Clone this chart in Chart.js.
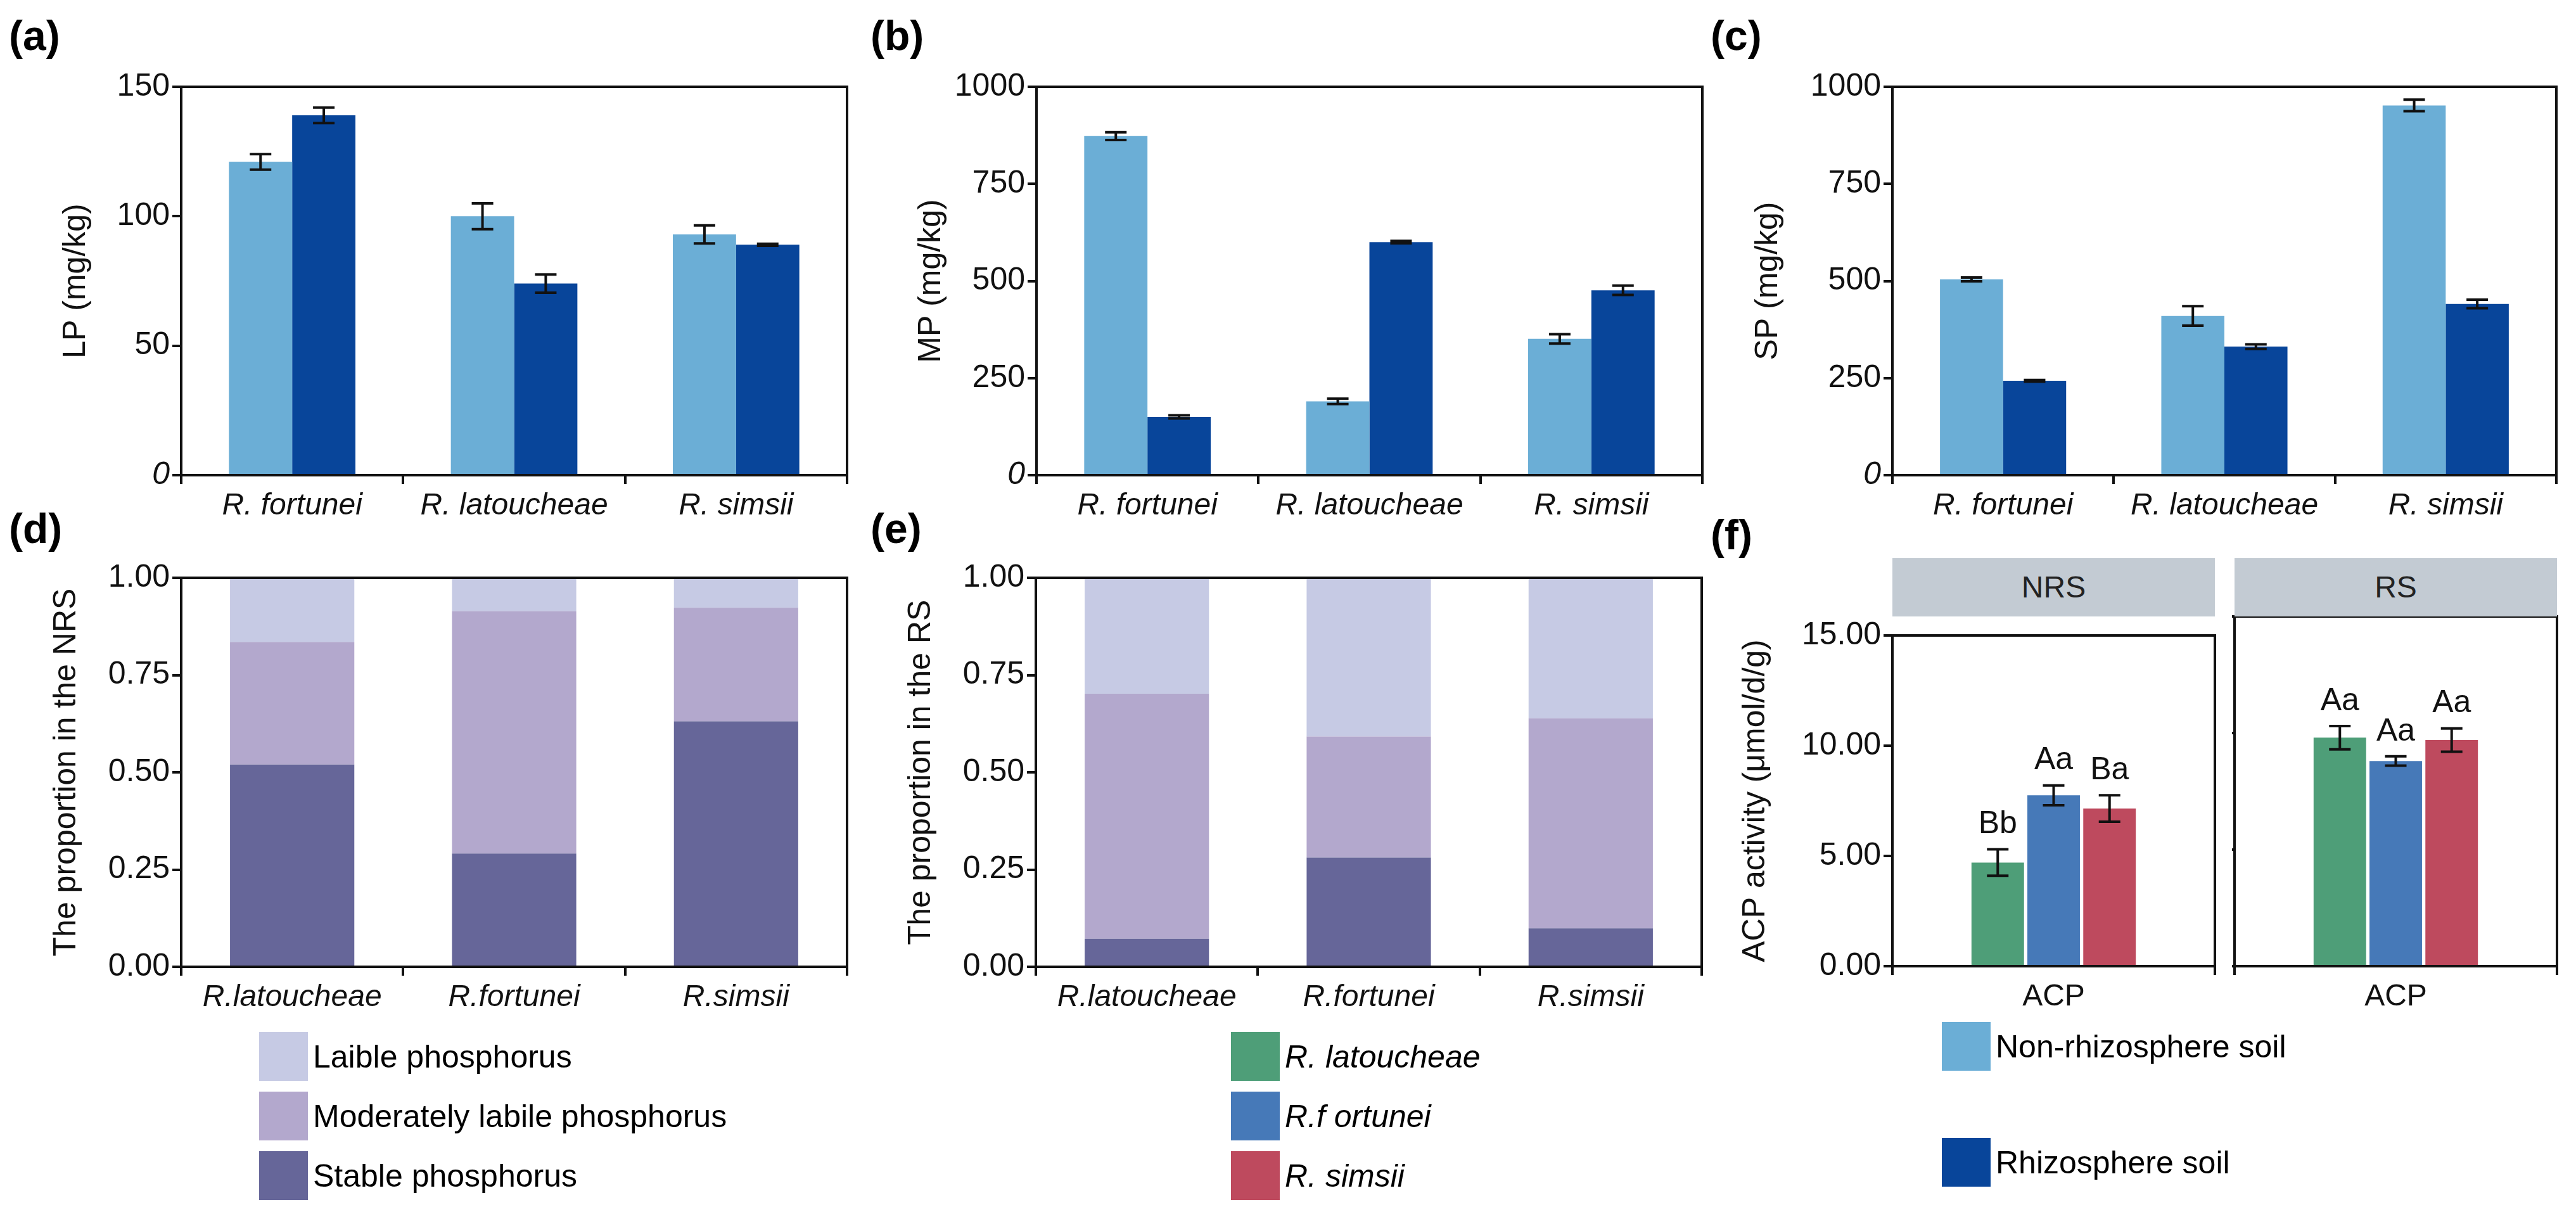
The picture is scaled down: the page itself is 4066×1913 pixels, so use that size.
<!DOCTYPE html>
<html><head><meta charset="utf-8">
<script src="https://cdn.jsdelivr.net/npm/chart.js@4/dist/chart.umd.min.js"></script>
<style>
body{margin:0;background:#fff;width:4066px;height:1913px;position:relative;overflow:hidden;font-family:"Liberation Sans",Arial,sans-serif}
.box{position:absolute}
.lab{position:absolute;font-weight:bold;font-size:66px}
.leg{position:absolute;font-size:50px;display:flex;align-items:center}
.leg span.sw{display:inline-block;width:77px;height:77px;margin-right:8px}
.strip{position:absolute;background:#C3CBD3;font-size:48px;text-align:center;line-height:92px;color:#222}
</style></head><body>
<script>
// --- data ---
const speciesTop = ['R. fortunei', 'R. latoucheae', 'R. simsii'];
const lpNRS = [121, 100, 93], lpRS = [139, 74, 89];
const lpNRSerr = [3, 5, 3.5], lpRSerr = [3, 3.5, 0.4];
const mpNRS = [873, 190, 351], mpRS = [150, 600, 476];
const mpNRSerr = [10, 7, 12], mpRSerr = [4, 3, 12];
const spNRS = [504, 410, 952], spRS = [243, 331, 441];
const spNRSerr = [5, 25, 15], spRSerr = [2, 6, 11];

const speciesBot = ['R.latoucheae', 'R.fortunei', 'R.simsii'];
const nrsStable = [0.52, 0.291, 0.631];
const nrsModerate = [0.315, 0.623, 0.292];
const nrsLabile = [0.165, 0.086, 0.077];
const rsStable = [0.072, 0.281, 0.099];
const rsModerate = [0.630, 0.311, 0.540];
const rsLabile = [0.298, 0.408, 0.361];

const acpNames = ['R. latoucheae', 'R.f ortunei', 'R. simsii'];
const acpNRS = [4.7, 7.75, 7.15], acpNRSerr = [0.6, 0.45, 0.6];
const acpRS = [9.8, 8.8, 9.7], acpRSerr = [0.5, 0.2, 0.5];
const acpNRSlab = ['Bb', 'Aa', 'Ba'], acpRSlab = ['Aa', 'Aa', 'Aa'];

const cLight = '#6BAED6', cDark = '#08459A';
const cLab = '#C6CAE4', cMod = '#B3A8CD', cSta = '#666699';
const cAcp = ['#4E9E78', '#4679B8', '#BE4A5E'];
const FONT = '"Liberation Sans", Arial, sans-serif';

Chart.defaults.font.family = FONT;
Chart.defaults.color = '#111';
Chart.defaults.animation = false;

const frame = {
  id: 'frame',
  afterDraw(c) {
    const a = c.chartArea, g = c.ctx;
    g.save(); g.strokeStyle = '#111'; g.lineWidth = 4;
    g.strokeRect(a.left, a.top, a.right - a.left, a.bottom - a.top);
    g.restore();
  }
};
const errbars = {
  id: 'errbars',
  afterDatasetsDraw(c, args, o) {
    if (!o.err) return;
    const g = c.ctx, ys = c.scales.y;
    g.save(); g.strokeStyle = '#111'; g.lineWidth = 4;
    o.err.forEach((errs, i) => {
      const ds = c.data.datasets[i];
      c.getDatasetMeta(i).data.forEach((bar, j) => {
        const v = ds.data[j], e = errs[j];
        const t = ys.getPixelForValue(v + e), b = ys.getPixelForValue(v - e);
        const w = o.cap || 17;
        g.beginPath();
        g.moveTo(bar.x, t); g.lineTo(bar.x, b);
        g.moveTo(bar.x - w, t); g.lineTo(bar.x + w, t);
        g.moveTo(bar.x - w, b); g.lineTo(bar.x + w, b);
        g.stroke();
        if (o.labels) {
          g.fillStyle = '#111'; g.font = '50px ' + FONT;
          g.textAlign = 'center'; g.textBaseline = 'bottom';
          g.fillText(o.labels[i][j], bar.x, t - 14);
        }
      });
    });
    g.restore();
  }
};

function place(id, plotL, plotT, plotW, plotH, yW, xH) {
  const cv = document.createElement('canvas');
  cv.id = id;
  const d = document.createElement('div');
  d.className = 'box';
  d.style.left = (plotL - yW) + 'px'; d.style.top = (plotT - 4) + 'px';
  d.style.width = (plotW + yW + 4) + 'px'; d.style.height = (plotH + xH + 4) + 'px';
  d.appendChild(cv); document.body.appendChild(d);
  return cv;
}

function axes(max, step, title, yW, xH, opts = {}) {
  return {
    x: {
      stacked: !!opts.stacked,
      grid: { display: true, drawOnChartArea: false, tickLength: 14, color: '#111', lineWidth: 4 },
      border: { display: false },
      ticks: { font: { size: 48, style: opts.xItalic === false ? 'normal' : 'italic' }, color: '#111', padding: 6, display: opts.xTicks !== false },
      afterFit: s => { s.height = xH; }
    },
    y: {
      stacked: !!opts.stacked,
      min: 0, max: max,
      grid: { display: true, drawOnChartArea: false, tickLength: 14, color: '#111', lineWidth: 4 },
      border: { display: false },
      ticks: {
        stepSize: step, color: '#111', padding: 4, display: opts.yTicks !== false,
        callback: opts.fmt || (v => v),
        font: c => ({ size: 50, style: (opts.italic0 && c.tick && c.tick.value === 0) ? 'italic' : 'normal' })
      },
      title: { display: !!title, text: title, font: { size: 50 }, color: '#111', padding: 4 },
      afterFit: s => { s.width = yW; }
    }
  };
}

function groupChart(id, L, T, W, H, yW, xH, max, step, title, d1, d2, e1, e2) {
  new Chart(place(id, L, T, W, H, yW, xH), {
    type: 'bar',
    data: { labels: speciesTop, datasets: [
      { data: d1, backgroundColor: cLight, categoryPercentage: 0.57, barPercentage: 1 },
      { data: d2, backgroundColor: cDark, categoryPercentage: 0.57, barPercentage: 1 }
    ] },
    options: {
      responsive: true, maintainAspectRatio: false, layout: { padding: { top: 4, right: 4 } },
      plugins: { legend: { display: false }, tooltip: { enabled: false }, errbars: { err: [e1, e2] } },
      scales: axes(max, step, title, yW, xH, { italic0: true })
    },
    plugins: [frame, errbars]
  });
}

groupChart('a', 286, 107, 1051, 643, 200, 100, 150, 50, 'LP (mg/kg)', lpNRS, lpRS, lpNRSerr, lpRSerr);
groupChart('b', 1636, 107, 1051, 643, 200, 100, 1000, 250, 'MP (mg/kg)', mpNRS, mpRS, mpNRSerr, mpRSerr);
groupChart('c', 2987, 107, 1048, 643, 230, 100, 1000, 250, 'SP (mg/kg)', spNRS, spRS, spNRSerr, spRSerr);

function stackChart(id, L, title, s, m, l) {
  new Chart(place(id, L, 882, 1051, 644, 215, 100), {
    type: 'bar',
    data: { labels: speciesBot, datasets: [
      { data: s, backgroundColor: cSta, categoryPercentage: 0.56, barPercentage: 1 },
      { data: m, backgroundColor: cMod, categoryPercentage: 0.56, barPercentage: 1 },
      { data: l, backgroundColor: cLab, categoryPercentage: 0.56, barPercentage: 1 }
    ] },
    options: {
      responsive: true, maintainAspectRatio: false, layout: { padding: { top: 4, right: 4 } },
      plugins: { legend: { display: false }, tooltip: { enabled: false } },
      scales: axes(1, 0.25, title, 215, 100, { stacked: true, fmt: v => v.toFixed(2) })
    },
    plugins: [frame]
  });
}
stackChart('d', 286, 'The proportion in the NRS', nrsStable, nrsModerate, nrsLabile);
stackChart('e', 1635, 'The proportion in the RS', rsStable, rsModerate, rsLabile);

function acpChart(id, L, yW, vals, errs, labs, showY) {
  new Chart(place(id, L, 973, 509, 552, yW, 100), {
    type: 'bar',
    data: { labels: ['ACP'], datasets: vals.map((v, i) => (
      { data: [v], backgroundColor: cAcp[i], categoryPercentage: 0.52, barPercentage: 0.94 })) },
    options: {
      responsive: true, maintainAspectRatio: false, layout: { padding: { top: 4, right: 4 } },
      plugins: { legend: { display: false }, tooltip: { enabled: false },
        errbars: { err: errs.map(e => [e]), labels: labs.map(t => [t]) } },
      scales: axes(15, 5, showY ? 'ACP activity (μmol/d/g)' : '', yW, 100,
        { fmt: v => v.toFixed(2), xItalic: false, yTicks: showY })
    },
    plugins: [frame, errbars]
  });
}
acpChart('f1', 2987, 250, acpNRS, acpNRSerr, acpNRSlab, true);
acpChart('f2', 3527, 4, acpRS, acpRSerr, acpRSlab, false);

// text overlays
function el(cls, html, css) {
  const d = document.createElement('div'); d.className = cls; d.innerHTML = html;
  Object.assign(d.style, css); document.body.appendChild(d);
}
[['(a)', 14, 18], ['(b)', 1374, 18], ['(c)', 2700, 18], ['(d)', 14, 796], ['(e)', 1374, 796], ['(f)', 2700, 806]]
  .forEach(([t, x, y]) => el('lab', t, { left: x + 'px', top: y + 'px' }));
el('strip', 'NRS', { left: '2987px', top: '881px', width: '509px', height: '92px' });
el('strip', 'RS', { left: '3527px', top: '881px', width: '509px', height: '92px' });

const legD = [['Laible phosphorus', cLab], ['Moderately labile phosphorus', cMod], ['Stable phosphorus', cSta]];
const legE = [['<i>R. latoucheae</i>', cAcp[0]], ['<i>R.f ortunei</i>', cAcp[1]], ['<i>R. simsii</i>', cAcp[2]]];
const legY = [1629, 1723, 1817];
legD.forEach(([t, c], i) => el('leg', `<span class="sw" style="background:${c}"></span>${t}`, { left: '409px', top: legY[i] + 'px' }));
legE.forEach(([t, c], i) => el('leg', `<span class="sw" style="background:${c}"></span>${t}`, { left: '1943px', top: legY[i] + 'px' }));
el('leg', `<span class="sw" style="background:${cLight}"></span>Non-rhizosphere soil`, { left: '3065px', top: '1613px' });
el('leg', `<span class="sw" style="background:${cDark}"></span>Rhizosphere soil`, { left: '3065px', top: '1796px' });
</script>
</body></html>
